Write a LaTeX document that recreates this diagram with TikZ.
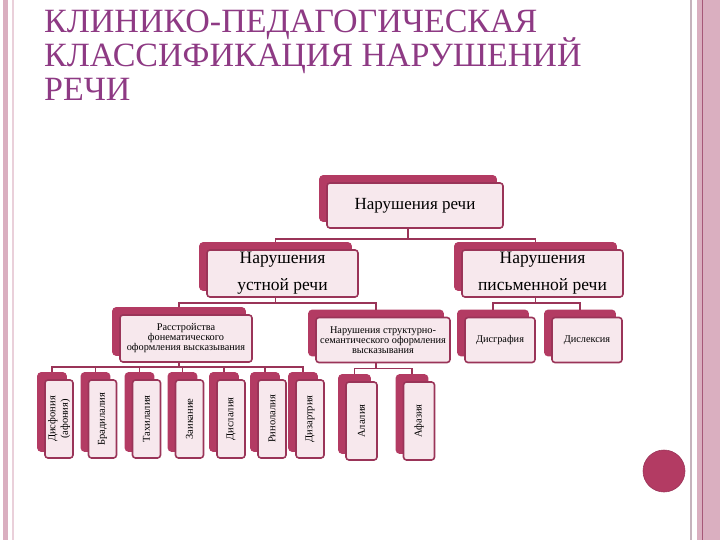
\documentclass[tikz,border=0pt]{standalone}
\usepackage{fontspec}
\setmainfont{Liberation Serif}
\usepackage{graphicx}
\usetikzlibrary{shadows, calc}
\definecolor{titlec}{HTML}{8E3A84}
\definecolor{berry}{HTML}{B33B63}
\definecolor{berrydark}{HTML}{9A3458}
\definecolor{blush}{HTML}{F7E8ED}
\definecolor{stripe}{HTML}{DAAFC0}
\definecolor{stripelight}{HTML}{EAD0DA}
\definecolor{greyline}{HTML}{C6B3BD}
\definecolor{bandline}{HTML}{A65878}

\begin{document}
\begin{tikzpicture}[x=1pt, y=-1pt,
  card/.style={draw=berrydark, fill=blush, line width=1.6pt, rounded corners=3pt, align=center, inner sep=1pt,
    copy shadow={shadow xshift=-7pt, shadow yshift=7pt, fill=berry, draw=berry}},
  tall/.style={card, minimum width=28pt, minimum height=78pt, font=\fontsize{10.5}{11}\selectfont},
  mid/.style={card, font=\fontsize{10.3}{10}\selectfont},
  link/.style={draw=berrydark, line width=1.4pt},
  heading/.style={anchor=base west, text=titlec, font=\fontsize{34}{34}\selectfont, inner sep=0pt}
]
\useasboundingbox (0,0) rectangle (720,540);
% slide frame
\fill[stripe] (3,0) rectangle (8,540);
\fill[stripelight] (12,0) rectangle (13.5,540);
\fill[greyline] (689.5,0) rectangle (692,540);
\fill[stripe] (697,0) rectangle (720,540);
\fill[bandline] (702,0) rectangle (703.2,540);

% title
\node[heading] (title1) at (44,33) {КЛИНИКО-ПЕДАГОГИЧЕСКАЯ};
\node[heading] (title2) at (44,67) {КЛАССИФИКАЦИЯ НАРУШЕНИЙ};
\node[heading] (title3) at (44,101) {РЕЧИ};

% boxes
\node[card, minimum width=176pt, minimum height=45pt, font=\fontsize{17}{18}\selectfont] (speech) at (415,205.5) {Нарушения речи};
\node[card, minimum width=151pt, minimum height=47pt, font=\fontsize{17.5}{27}\selectfont] (oral) at (282.5,273.5) {Нарушения\\устной речи};
\node[card, minimum width=161pt, minimum height=47pt, font=\fontsize{17.5}{27}\selectfont] (written) at (542.5,273.5) {Нарушения\\письменной речи};

\node[mid, minimum width=132pt, minimum height=47pt] (phon) at (186,338.5) {Расстройства\\фонематического\\оформления высказывания};
\node[mid, minimum width=134pt, minimum height=45pt] (sem) at (383,340) {Нарушения структурно-\\семантического оформления\\высказывания};
\node[mid, minimum width=70pt, minimum height=45pt] (dysgr) at (500,340) {Дисграфия};
\node[mid, minimum width=70pt, minimum height=45pt] (dyslex) at (587,340) {Дислексия};

\node[tall] (dysph) at (59,419) {\rotatebox{90}{\shortstack{Дисфония\\(афония)}}};
\node[tall] (brady) at (102.5,419) {\rotatebox{90}{Брадилалия}};
\node[tall] (tachy) at (146.5,419) {\rotatebox{90}{Тахилалия}};
\node[tall] (stutter) at (189.5,419) {\rotatebox{90}{Заикание}};
\node[tall] (dysla) at (231,419) {\rotatebox{90}{Дислалия}};
\node[tall] (rhino) at (272,419) {\rotatebox{90}{Ринолалия}};
\node[tall] (dysar) at (310,419) {\rotatebox{90}{Дизартрия}};
\node[tall, minimum width=31pt] (alal) at (361.5,421) {\rotatebox{90}{Алалия}};
\node[tall, minimum width=31pt] (aphas) at (419,421) {\rotatebox{90}{Афазия}};

% connectors
\foreach \c in {oral, written}
  \draw[link] ([xshift=-7pt]speech.south) -- ++(0,10) -| ([xshift=-7pt,yshift=7pt]\c.north);
\foreach \c in {phon, sem}
  \draw[link] ([xshift=-7pt]oral.south) -- ++(0,5) -| ([xshift=-7pt,yshift=7pt]\c.north);
\foreach \c in {dysgr, dyslex}
  \draw[link] ([xshift=-7pt]written.south) -- ++(0,5) -| ([xshift=-7pt,yshift=7pt]\c.north);
\foreach \c in {dysph, brady, tachy, stutter, dysla, rhino, dysar}
  \draw[link] ([xshift=-7pt]phon.south) -- ++(0,4) -| ([xshift=-7pt,yshift=7pt]\c.north);
\foreach \c in {alal, aphas}
  \draw[link] ([xshift=-7pt]sem.south) -- ++(0,5) -| ([xshift=-7pt,yshift=7pt]\c.north);

% bullet
\fill[berry, draw=berrydark, line width=0.6pt] (664,471) circle (21);
\end{tikzpicture}
\end{document}
